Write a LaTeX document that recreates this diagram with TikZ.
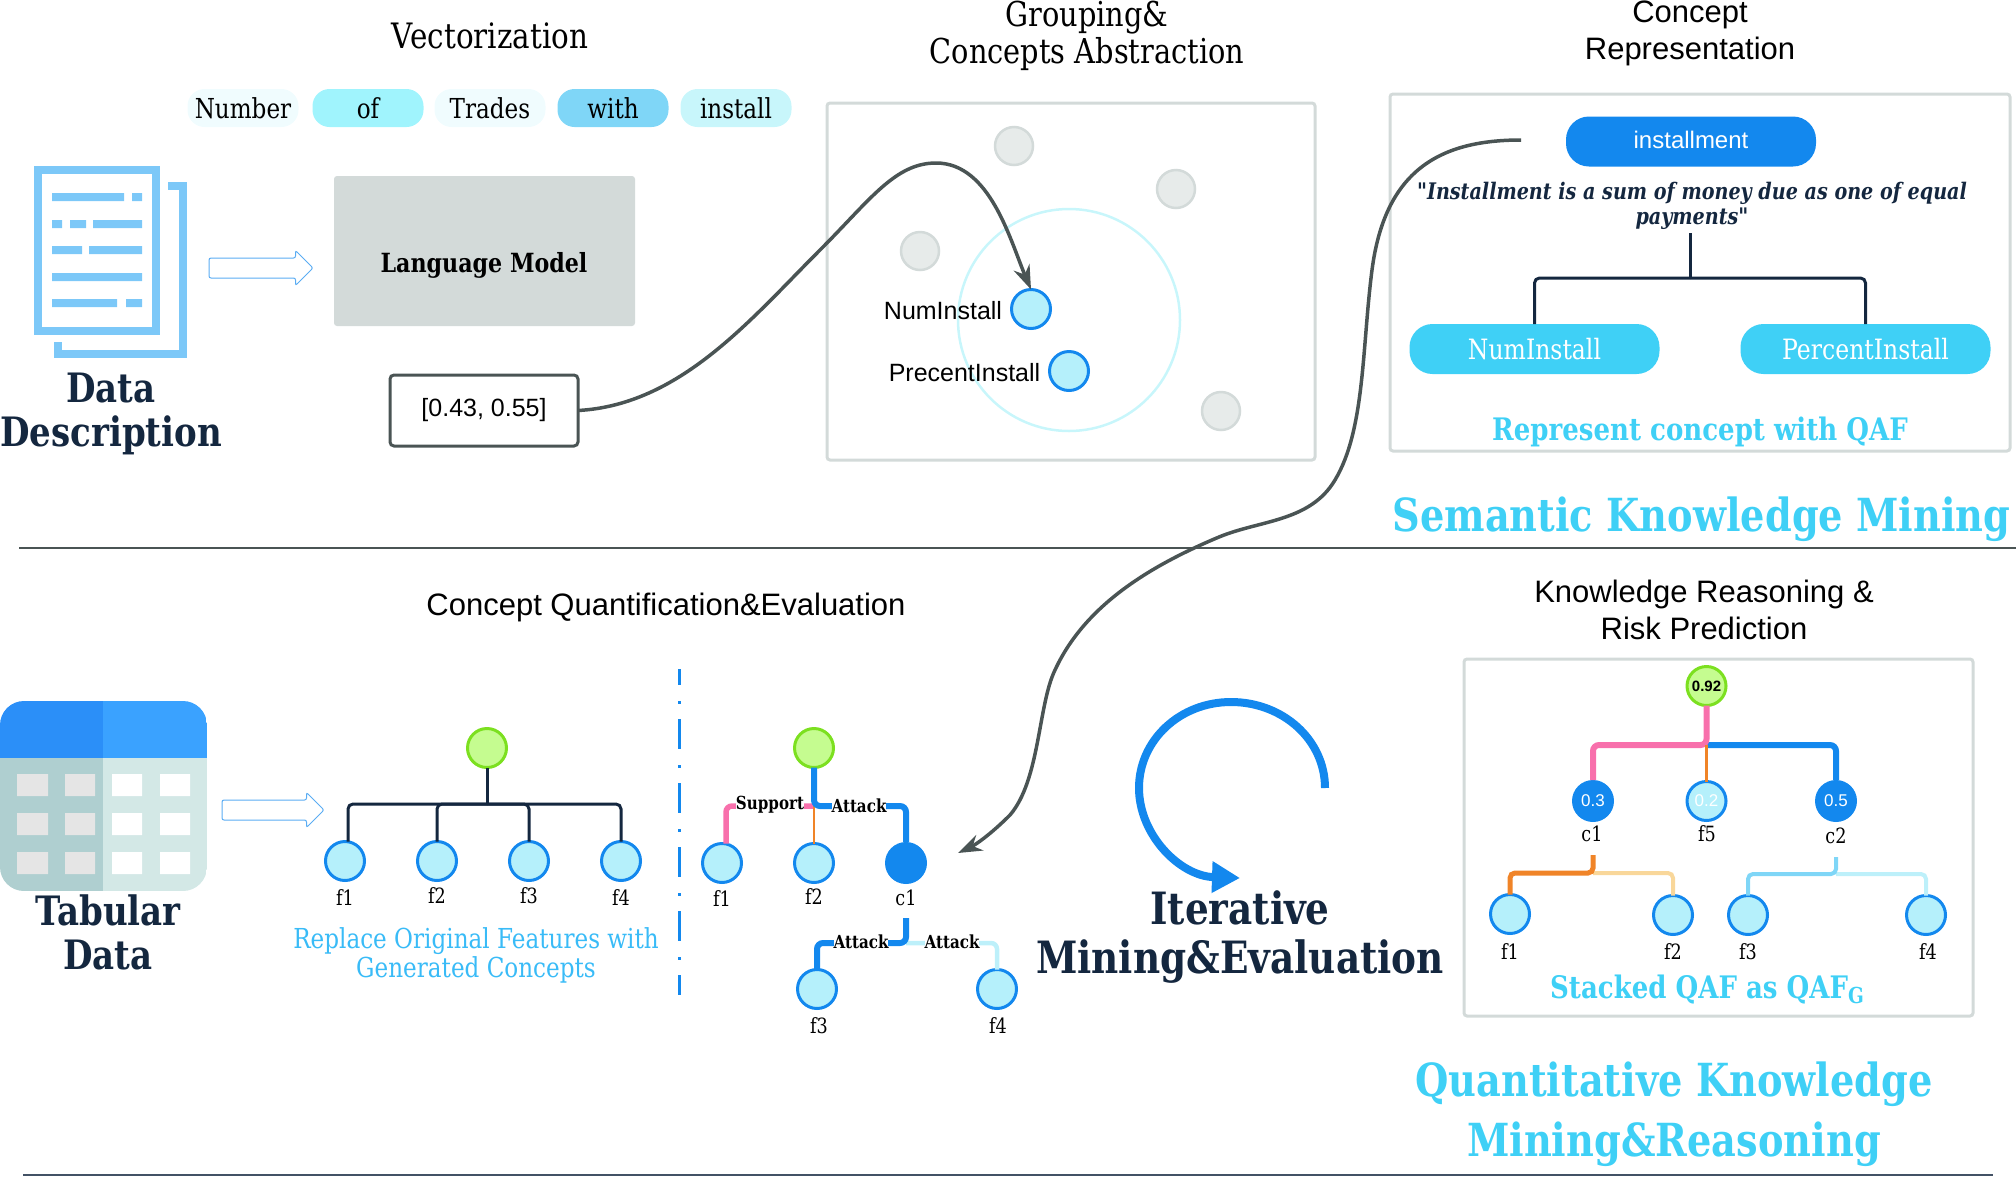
\documentclass[tikz,border=0pt]{standalone}
\usepackage{fontspec}
\setmainfont{Liberation Sans}
\newfontfamily\drd[FakeStretch=0.84]{DejaVu Serif}
\usetikzlibrary{arrows.meta,shapes.arrows}
\definecolor{ink}{HTML}{14273F}
\definecolor{slate}{HTML}{4A5454}
\definecolor{sky}{HTML}{3FD0F6}
\definecolor{blue1}{HTML}{1388EE}
\definecolor{frame}{HTML}{D3DAD9}
\definecolor{docblue}{HTML}{7CC8F8}
\definecolor{featfill}{HTML}{B5F0FB}
\definecolor{topfill}{HTML}{C5FC90}
\definecolor{topline}{HTML}{7CE020}
\definecolor{tokena}{HTML}{F0FCFE}
\definecolor{tokenb}{HTML}{A0F4FD}
\definecolor{tokenc}{HTML}{C8F6FB}
\definecolor{pinkline}{HTML}{F870AC}
\definecolor{orangeline}{HTML}{F08428}
\definecolor{paleorange}{HTML}{F9D79A}
\definecolor{midsky}{HTML}{7FD6F7}
\definecolor{palesky}{HTML}{BDF0FA}
\definecolor{headl}{HTML}{2B8FF8}
\definecolor{headr}{HTML}{3AA2FF}
\definecolor{bodyl}{HTML}{AFCFD0}
\definecolor{bodyr}{HTML}{D3E8E6}
\begin{document}
\begin{tikzpicture}[
		x=1pt, y=-1pt,
		every node/.style={inner sep=0pt, outer sep=0pt},
		ser/.style 2 args={font=\drd\fontsize{#1}{#2}\selectfont, align=center},
		serb/.style 2 args={font=\drd\bfseries\fontsize{#1}{#2}\selectfont, align=center},
		sns/.style 2 args={font=\fontsize{#1}{#2}\selectfont, align=center},
		token/.style={rounded corners=17pt, minimum width=111pt, minimum height=38pt, ser={27.5}{27.5}},
		panel/.style={draw=frame, line width=3pt, rounded corners=3pt},
		pill/.style={rounded corners=23pt, minimum width=250pt, minimum height=50pt, text=white},
		feat/.style={circle, draw=blue1, line width=3pt, fill=featfill, minimum size=39pt},
		conc/.style={circle, fill=blue1, minimum size=42pt, text=white},
		top/.style={circle, draw=topline, line width=3pt, fill=topfill, minimum size=39pt},
		dots/.style={circle, draw=frame, line width=2.5pt, fill=frame!55!white, minimum size=38pt},
		hollow/.style={single arrow, draw=blue1!70!white, line width=1pt, rounded corners=2pt, inner ysep=9.5pt, minimum width=34pt, single arrow head extend=7.5pt},
		tree/.style={draw=ink, line width=3pt, rounded corners=5pt},
		wire/.style={draw=slate, line width=3.5pt, -{Stealth[length=24pt,width=17pt]}}
	]
	\useasboundingbox (0,0) rectangle (2016,1176);

	\node[ser={35}{35}] (vectitle) at (490,36) {Vectorization};
	\node[token, fill=tokena] (tnumber) at (243,108) {Number};
	\node[token, fill=tokenb] (tof) at (368,108) {of};
	\node[token, fill=tokena] (ttrades) at (490,108) {Trades};
	\node[token, fill=midsky] (twith) at (613,108) {with};
	\node[token, fill=tokenc] (tinstall) at (736,108) {install};

	\draw[docblue, line width=7.5pt] (38,170) rectangle (156,331);
	\draw[docblue, line width=7.5pt] (168,186) -- (183,186) -- (183,354) -- (58,354) -- (58,342);
	\fill[docblue] (52,193) rectangle (124,201) (132,193) rectangle (142,201)
		(52,220) rectangle (62,228) (70,220) rectangle (86,228) (93,220) rectangle (142,228)
		(52,246) rectangle (82,254) (89,246) rectangle (142,254)
		(52,273) rectangle (142,281)
		(52,299) rectangle (117,307) (126,299) rectangle (142,307);
	\node[serb={40.5}{44}, text=ink] (datadesc) at (111,414) {Data\\Description};

	\node[hollow, minimum height=104pt] (docarrow) at (256,268) {};
	\node[fill=frame, rounded corners=3pt, minimum width=301pt, minimum height=150pt] (langmodel) at (484.5,251) {};
	\node[serb={26.4}{26.4}] (langtext) at (484,265) {Language Model};
	\node[draw=slate, line width=3pt, rounded corners=4pt, minimum width=188pt, minimum height=71pt, sns={25}{25}] (vecbox) at (484,410.5) {[0.43, 0.55]};

	\node[ser={34.3}{37}] (grouptitle) at (1087,36) {Grouping\&\\Concepts Abstraction};
	\draw[panel] (827,103) rectangle (1315,460);
	\node[dots] (g1) at (1014,146) {};
	\node[dots] (g2) at (1176,189) {};
	\node[dots] (g3) at (920,251) {};
	\node[dots] (g4) at (1221,411) {};
	\draw[tokenc, line width=2.5pt] (1069,320) circle[radius=111];
	\node[feat] (numdot) at (1031,309) {};
	\node[feat] (pctdot) at (1069,371) {};
	\node[sns={25}{25}] (numlabel) at (943,311) {NumInstall};
	\node[sns={25}{25}] (pctlabel) at (964.5,373) {PrecentInstall};

	\node[sns={31}{37}] (contitle) at (1690,33) {Concept\\Representation};
	\draw[panel] (1390,94) rectangle (2010,451);
	\node[pill, fill=blue1, sns={24}{24}] (installment) at (1691,141.5) {\raisebox{3pt}{installment}};
	\node[text=ink, ser={22.8}{25}] (quote) at (1692,206) {\bfseries\itshape "Installment is a sum of money due as one of equal\\\bfseries\itshape payments"};
	\node[pill, fill=sky, ser={28}{28}] (numpill) at (1534.5,349) {NumInstall};
	\node[pill, fill=sky, ser={28}{28}] (pctpill) at (1865.5,349) {PercentInstall};
	\coordinate (quotedrop) at (1690,233);
	\coordinate (conbar) at (1690,278);
	\draw[tree] (quotedrop) -- (conbar);
	\draw[tree] (conbar) -| (numpill.north);
	\draw[tree] (conbar) -| (pctpill.north);
	\node[serb={31}{31}, text=sky] (reptext) at (1700,432) {Represent concept with QAF};
	\node[serb={45.6}{45.6}, text=sky] (semantic) at (1701.5,519) {Semantic Knowledge Mining};

	\coordinate (rule1a) at (19,548);
	\coordinate (rule1b) at (2016,548);
	\coordinate (rule2a) at (23,1175);
	\coordinate (rule2b) at (1993,1175);
	\draw[slate, line width=1.5pt] (rule1a) -- (rule1b);
	\draw[ink!80!white, line width=1.5pt] (rule2a) -- (rule2b);

	\begin{scope}[yshift=-1pt]
		\clip[rounded corners=24pt] (0,700) rectangle (207,890);
		\fill[headl] (0,700) rectangle (103,757);
		\fill[headr] (103,700) rectangle (207,757);
		\fill[bodyl] (0,757) rectangle (103,890);
		\fill[bodyr] (103,757) rectangle (207,890);
	\end{scope}
	\fill[black!10] (17,774) rectangle (48,796) (65,774) rectangle (95,796)
		(17,813) rectangle (48,835) (65,813) rectangle (95,835)
		(17,852) rectangle (48,874) (65,852) rectangle (95,874);
	\fill[white] (112,774) rectangle (142,796) (160,774) rectangle (190,796)
		(112,813) rectangle (142,835) (160,813) rectangle (190,835)
		(112,852) rectangle (142,874) (160,852) rectangle (190,874);
	\node[serb={40.5}{43.5}, text=ink] (tabdata) at (108,932.5) {Tabular\\Data};
	\node[hollow, minimum height=102pt] (tabarrow) at (268,810) {};

	\node[sns={31}{31}] (quanttitle) at (666,607) {Concept Quantification\&Evaluation};

	\node[top] (aroot) at (487,748) {};
	\node[feat] (af1) at (345,861) {};
	\node[feat] (af2) at (437,861) {};
	\node[feat] (af3) at (529,861) {};
	\node[feat] (af4) at (621,861) {};
	\coordinate (abar) at (487,804);
	\draw[tree] (aroot.south) -- (abar);
	\draw[tree] (abar) -| ([xshift=3pt]af1.north);
	\draw[tree] (abar) -| (af2.north);
	\draw[tree] (abar) -| (af3.north);
	\draw[tree] (abar) -| (af4.north);
	\node[ser={21}{21}] (af1t) at (345,898) {f1};
	\node[ser={21}{21}] (af2t) at (437,896) {f2};
	\node[ser={21}{21}] (af3t) at (529,896) {f3};
	\node[ser={21}{21}] (af4t) at (621,898) {f4};
	\node[ser={27.5}{29}, text=sky!90!blue] (replace) at (476,955) {Replace Original Features with\\Generated Concepts};

	\coordinate (splita) at (679,669);
	\coordinate (splitb) at (679,995);
	\draw[blue1, line width=3pt, dash pattern=on 30pt off 16pt on 3pt off 15pt, dash phase=14pt] (splita) -- (splitb);

	\node[top] (broot) at (814,748) {};
	\node[feat] (bf1) at (722,863) {};
	\node[feat] (bf2) at (814,863) {};
	\node[conc] (bc1) at (906,863) {};
	\node[feat] (bf3) at (817,989) {};
	\node[feat] (bf4) at (997,989) {};
	\coordinate (bbar) at (814,806);
	\coordinate (cdrop) at (906,918);
	\coordinate (cbar) at (906,943);
	\draw[pinkline, line width=5.5pt, rounded corners=6pt] (bbar) -| ([xshift=4pt]bf1.north);
	\draw[orangeline, line width=2pt] (bbar) -- (bf2.north);
	\draw[blue1, line width=6pt, rounded corners=6pt] (broot.south) -- (bbar) -| (bc1.north);
	\draw[palesky, line width=4.5pt, rounded corners=6pt] (cbar) -| (bf4.north);
	\draw[blue1, line width=6pt, rounded corners=6pt] (cdrop) -- (cbar) -| (bf3.north);
	\node[serb={18}{18}, fill=white] (supportt) at (770,805) {Support};
	\node[serb={18}{18}, fill=white] (attackt1) at (859,806) {Attack};
	\node[serb={18}{18}, fill=white] (attackt2) at (861,942) {Attack};
	\node[serb={18}{18}, fill=white] (attackt3) at (952,942) {Attack};
	\node[ser={21}{21}] (bf1t) at (722,899) {f1};
	\node[ser={21}{21}] (bf2t) at (814,897) {f2};
	\node[ser={21}{21}] (bc1t) at (906,898) {c1};
	\node[ser={21}{21}] (bf3t) at (819,1026) {f3};
	\node[ser={21}{21}] (bf4t) at (998,1026) {f4};

	\coordinate (loopstart) at (1325,788);
	\coordinate (looptop) at (1231,702);
	\coordinate (loopleft) at (1139,788);
	\coordinate (loopend) at (1240,878);
	\draw[blue1, line width=8pt, -{Triangle[length=28pt,width=30pt]}] (loopstart) .. controls (1325,740) and (1283,702) .. (looptop) .. controls (1180,702) and (1139,740) .. (loopleft) .. controls (1139,835) and (1180,876) .. (loopend);
	\node[serb={44.5}{49}, text=ink] (iterate) at (1240,937) {Iterative\\Mining\&Evaluation};

	\node[sns={31}{37}] (kntitle) at (1704,610) {Knowledge Reasoning \&\\Risk Prediction};
	\draw[panel] (1464,659) rectangle (1973,1016);
	\node[top, sns={15}{15}] (qroot) at (1706.5,686) {\bfseries 0.92};
	\node[conc, sns={17}{17}] (qc1) at (1593,801) {0.3};
	\node[feat, sns={17}{17}, text=white] (qf5) at (1706.5,801) {0.2};
	\node[conc, sns={17}{17}] (qc2) at (1836,801) {0.5};
	\node[feat] (qf1) at (1510,914) {};
	\node[feat] (qf2) at (1673,915) {};
	\node[feat] (qf3) at (1748,915) {};
	\node[feat] (qf4) at (1926,915) {};
	\coordinate (qbar) at (1706.5,745);
	\coordinate (qdropa) at (1593,855);
	\coordinate (qbara) at (1593,873);
	\coordinate (qdropb) at (1836,857);
	\coordinate (qbarb) at (1836,874);
	\draw[blue1, line width=6pt, rounded corners=6pt] (qbar) -| (qc2.north);
	\draw[pinkline, line width=6pt, rounded corners=6pt] (qroot.south) -- (qbar) -| (qc1.north);
	\draw[orangeline, line width=3pt] (qbar) -- (qf5.north);
	\draw[paleorange, line width=4pt, rounded corners=5pt] (qbara) -| (qf2.north);
	\draw[orangeline, line width=5pt, rounded corners=5pt] (qdropa) -- (qbara) -| (qf1.north);
	\draw[palesky, line width=4pt, rounded corners=5pt] (qbarb) -| (qf4.north);
	\draw[midsky, line width=4pt, rounded corners=5pt] (qdropb) -- (qbarb) -| (qf3.north);
	\node[ser={21}{21}] (qc1t) at (1592,834) {c1};
	\node[ser={21}{21}] (qf5t) at (1707,834) {f5};
	\node[ser={21}{21}] (qc2t) at (1836,836) {c2};
	\node[ser={21}{21}] (qf1t) at (1510,952) {f1};
	\node[ser={21}{21}] (qf2t) at (1673,952) {f2};
	\node[ser={21}{21}] (qf3t) at (1748,952) {f3};
	\node[ser={21}{21}] (qf4t) at (1928,952) {f4};
	\node[serb={31}{31}, text=sky] (stacked) at (1707,990) {Stacked QAF as QAF\raisebox{-5pt}{\fontsize{22}{22}\selectfont G}};
	\node[serb={45.6}{60}, text=sky] (quantknow) at (1674,1114) {Quantitative Knowledge\\Mining\&Reasoning};

	\coordinate (bend1) at (820,250);
	\coordinate (bend2) at (936,163);
	\draw[wire] (vecbox.east) .. controls (680,405) and (750,320) .. (bend1) .. controls (870,200) and (895,163) .. (bend2) .. controls (990,163) and (1010,240) .. (numdot.north);

	\coordinate (wirestart) at (1521,140);
	\coordinate (bend3) at (1372,270);
	\coordinate (bend4) at (1335,480);
	\coordinate (bend5) at (1219,537);
	\coordinate (bend6) at (1055,670);
	\coordinate (bend7) at (1010,815);
	\coordinate (wireend) at (958,853);
	\draw[wire] (wirestart) .. controls (1440,140) and (1385,170) .. (bend3) .. controls (1362,347) and (1365,430) .. (bend4) .. controls (1310,522) and (1260,520) .. (bend5) .. controls (1150,566) and (1085,605) .. (bend6) .. controls (1038,705) and (1040,780) .. (bend7) .. controls (990,835) and (975,845) .. (wireend);
\end{tikzpicture}
\end{document}
